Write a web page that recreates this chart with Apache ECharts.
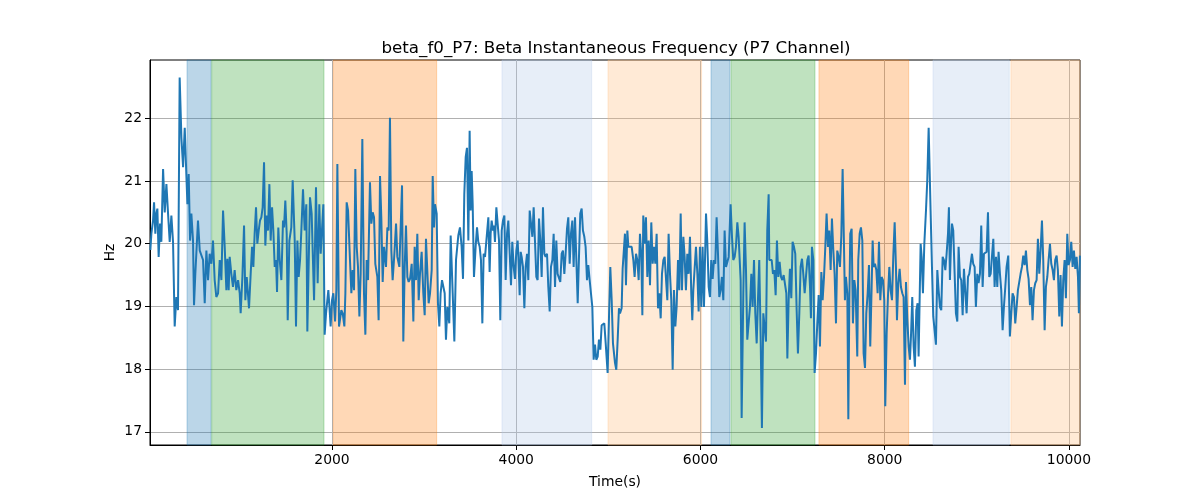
<!DOCTYPE html>
<html><head><meta charset="utf-8">
<script src="https://cdn.jsdelivr.net/npm/echarts@6/dist/echarts.min.js"></script>
<style>html,body{margin:0;padding:0;background:#fff}#c{width:1200px;height:500px}</style>
</head><body><div id="c"></div>
<script>
// [time (s), Hz] samples, traced segment by segment
const seg1 = [[28,19.90],[39,20.16],[57,20.37],[68,20.66],[82,20.16],[93,20.48],[104,20.56],[118,19.79],[133,20.32],[147,20.03],[166,21.19],[184,20.50],[202,20.95],[220,20.48],[238,20.03],[256,20.45],[274,20.03],[292,18.68],[310,19.15],[328,18.94],[346,22.65],[365,21.69],[383,21.22],[401,21.85],[419,21.08],[430,20.63],[444,21.11],[459,20.05],[473,20.48],[491,20.05],[502,19.02],[516,19.52],[545,20.37],[564,19.89],[582,19.92],[600,19.74],[618,19.05],[636,19.89],[654,19.42],[672,19.84],[690,19.68],[708,20.05],[726,19.42],[744,19.15],[763,19.21],[781,19.74],[799,19.42],[817,20.53],[835,19.95],[853,19.26],[864,19.76],[878,19.26],[889,19.79],[907,19.52],[925,19.31],[943,19.58],[961,19.26],[980,19.42],[998,19.21],[1008,18.89],[1027,19.47],[1045,20.29],[1059,19.10],[1074,19.47],[1099,18.97],[1117,19.52],[1132,19.95],[1146,19.63],[1160,20.16],[1175,20.58],[1189,20.00],[1204,20.21],[1218,20.37],[1233,20.42],[1247,20.58],[1262,21.30],[1276,19.97],[1291,20.45],[1305,20.21],[1320,20.95],[1334,20.05],[1349,20.58],[1363,20.21],[1378,19.63],[1392,19.74],[1403,19.23],[1417,20.26],[1432,19.74],[1450,19.42],[1468,20.37],[1479,20.26],[1493,20.69],[1508,20.16],[1519,18.78],[1537,20.05],[1558,20.26],[1573,21.01],[1595,20.05],[1609,18.68],[1624,20.05],[1638,19.47],[1653,19.74],[1667,20.21],[1685,20.87],[1703,20.21],[1721,20.63],[1732,18.60]];
const seg2 = [[1761,20.74],[1779,20.48],[1805,19.10],[1826,20.90],[1844,19.37],[1862,20.63],[1877,19.84],[1891,19.84],[1906,20.63],[1920,18.55],[1935,18.89],[1960,19.26],[1971,19.02],[1985,18.68],[2000,19.10],[2014,19.21],[2033,18.76],[2047,19.26],[2058,21.27],[2076,18.68],[2090,18.65],[2101,18.94],[2116,18.89],[2134,18.68],[2145,19.21],[2159,20.66],[2174,20.53],[2195,19.74],[2210,19.21],[2224,19.58],[2239,19.26],[2253,21.19],[2268,19.95],[2282,19.63],[2297,18.84],[2311,19.52],[2329,21.67],[2347,19.21],[2362,18.55],[2376,19.74],[2391,19.42],[2412,20.98],[2427,20.32],[2441,20.50],[2456,20.42],[2470,19.68],[2492,19.47],[2506,18.78],[2521,21.08],[2535,20.42],[2550,19.39],[2564,19.95],[2586,19.63],[2601,20.26],[2615,20.21],[2629,22.01],[2644,19.89],[2658,19.42],[2677,19.84],[2695,20.32],[2709,19.79],[2731,19.63],[2745,19.60],[2760,20.93],[2774,18.44],[2789,19.63],[2803,20.29],[2818,19.47],[2832,19.39],[2847,19.44],[2865,19.68],[2883,18.76],[2897,19.95],[2912,19.42],[2926,20.16],[2941,19.10],[2955,19.52],[2973,19.87],[2991,19.21],[3006,18.86],[3020,20.08],[3035,20.08],[3049,19.05],[3064,19.21],[3082,19.58],[3093,21.08],[3107,20.26],[3118,20.63],[3136,20.48],[3150,19.05],[3165,18.68],[3179,19.21],[3194,19.42],[3208,19.44],[3223,19.21],[3237,18.47],[3252,18.99],[3273,18.73],[3288,20.13],[3310,19.21],[3328,18.44],[3346,19.74],[3371,20.13],[3389,20.26]];
const seg3 = [[3407,19.95],[3422,19.44],[3436,20.79],[3451,21.38],[3465,21.53],[3480,20.05],[3494,21.80],[3505,20.53],[3516,21.16],[3527,20.63],[3541,19.47],[3559,19.95],[3574,20.26],[3588,20.03],[3603,19.95],[3617,19.74],[3632,18.73],[3646,19.84],[3661,19.79],[3682,19.81],[3697,20.42],[3711,19.55],[3722,20.16],[3733,20.37],[3748,20.21],[3758,20.29],[3769,20.03],[3784,20.58],[3798,20.32],[3813,20.05],[3827,18.78],[3842,20.21],[3856,20.37],[3871,20.45],[3885,19.42],[3900,20.16],[3914,20.37],[3929,19.84],[3943,19.34],[3957,20.03],[3972,19.63],[3986,19.44],[4001,19.89],[4015,20.05],[4023,19.79],[4037,19.18],[4048,19.87],[4059,19.79],[4073,19.63],[4088,18.97],[4102,19.63],[4117,19.84],[4131,19.42],[4146,20.53],[4160,20.56],[4175,20.11],[4189,20.58],[4203,20.05],[4218,19.47],[4232,19.42],[4247,20.40],[4261,20.05],[4276,19.47],[4290,20.58],[4305,19.84],[4319,19.79],[4334,19.84],[4348,19.31],[4363,18.92],[4377,19.63],[4392,19.74],[4406,20.16],[4421,19.31],[4435,20.05],[4449,19.52],[4464,19.50],[4478,19.39],[4493,19.84],[4507,19.89],[4522,19.52],[4536,19.84],[4551,20.24],[4565,20.42],[4580,19.68],[4594,20.16],[4609,20.37],[4623,19.63],[4638,20.42],[4652,20.42],[4667,19.05],[4681,19.79],[4695,20.48],[4710,20.56],[4724,20.21],[4739,20.11],[4753,19.95],[4768,19.42],[4782,19.66],[4797,19.42],[4811,19.21],[4826,18.99],[4840,18.15],[4855,18.39],[4869,18.15],[4884,18.20],[4898,18.47],[4913,18.31],[4927,18.70],[4942,18.73],[4956,18.73],[4971,18.41],[4992,17.94],[5007,18.84],[5021,19.63],[5036,19.10],[5050,18.41],[5072,18.10]];
const seg4 = [[5086,17.99],[5101,18.47],[5115,18.97],[5126,18.89],[5144,18.97],[5155,19.60],[5170,19.63],[5180,20.16],[5191,19.34],[5206,20.21],[5217,19.95],[5235,19.95],[5253,19.95],[5271,19.74],[5285,19.47],[5300,19.84],[5314,19.74],[5329,19.42],[5343,20.16],[5358,19.79],[5369,18.86],[5379,20.45],[5394,20.00],[5408,20.42],[5423,19.47],[5437,20.05],[5452,19.34],[5466,20.34],[5481,19.68],[5495,19.95],[5510,19.68],[5524,20.16],[5539,18.97],[5553,19.21],[5568,18.81],[5582,19.52],[5597,19.74],[5611,19.79],[5625,19.81],[5640,19.10],[5654,20.16],[5669,19.52],[5683,19.10],[5698,17.99],[5712,19.26],[5727,18.68],[5741,18.99],[5756,19.74],[5770,19.26],[5785,20.48],[5799,19.26],[5814,20.11],[5828,19.79],[5842,19.26],[5857,19.84],[5871,19.52],[5886,20.11],[5900,19.21],[5911,18.78],[5922,19.26],[5937,19.26],[5951,19.95],[5966,19.52],[5980,18.92],[5994,19.95],[6009,18.99],[6023,19.95],[6038,18.99],[6060,20.48],[6074,20.03],[6089,19.31],[6103,19.15],[6117,19.74],[6132,19.44],[6146,19.74],[6161,19.68],[6175,20.42],[6190,19.84],[6204,19.15],[6219,19.26],[6233,19.47],[6248,19.10],[6262,20.21],[6277,19.63],[6291,19.60],[6306,19.79],[6327,20.63],[6342,20.11],[6356,19.74],[6371,19.79],[6385,19.95],[6400,20.34],[6414,20.11],[6436,19.42],[6447,17.22],[6465,19.21],[6479,20.34],[6494,19.58],[6508,18.47],[6523,18.49],[6537,18.99],[6552,19.52],[6566,18.99],[6581,19.74],[6595,18.89],[6610,18.41],[6624,19.10],[6638,19.74],[6653,18.52],[6667,17.06],[6682,18.89],[6696,18.89],[6711,18.44],[6725,20.21],[6740,20.79],[6747,19.74]];
const seg5 = [[6773,19.74],[6787,19.52],[6801,19.58],[6816,19.18],[6830,20.05],[6845,19.47],[6859,19.71],[6874,19.47],[6888,19.42],[6903,19.50],[6917,19.50],[6932,19.21],[6943,18.17],[6957,19.10],[6971,19.60],[6986,19.13],[7000,20.03],[7015,19.95],[7029,19.84],[7044,18.94],[7058,18.25],[7073,18.89],[7087,19.63],[7102,19.76],[7116,19.52],[7131,19.21],[7145,19.47],[7160,19.74],[7174,19.81],[7189,19.31],[7199,18.81],[7210,19.95],[7225,19.74],[7239,17.94],[7254,18.25],[7268,18.73],[7283,19.18],[7297,18.36],[7312,19.55],[7326,19.10],[7341,19.47],[7355,19.95],[7369,20.48],[7384,19.95],[7398,20.21],[7413,19.58],[7427,20.40],[7442,19.89],[7456,19.52],[7471,18.73],[7485,19.89],[7500,19.79],[7514,19.63],[7529,20.13],[7543,21.19],[7558,19.95],[7568,19.10],[7579,19.47],[7594,19.21],[7605,17.20],[7616,19.10],[7626,20.16],[7641,20.24],[7655,18.73],[7670,19.42],[7684,19.26],[7702,18.20],[7713,19.74],[7728,20.16],[7742,20.26],[7757,20.05],[7771,18.25],[7786,18.02],[7800,18.89],[7815,19.21],[7829,19.66],[7843,18.36],[7858,19.31],[7869,20.05],[7880,19.63],[7894,19.68],[7909,19.58],[7923,19.21],[7938,20.03],[7952,19.10],[7966,19.47],[7981,19.42],[7995,19.10],[8006,17.41],[8021,18.57],[8035,19.15],[8050,19.63],[8064,19.26],[8079,19.10],[8093,19.79],[8108,20.34],[8122,19.63],[8133,18.78],[8147,19.37],[8162,19.60],[8176,19.31],[8191,19.21],[8205,19.15],[8220,17.75],[8231,19.39],[8245,18.81],[8260,18.36],[8274,18.15],[8285,18.52],[8299,19.15],[8314,18.36],[8328,18.04],[8343,18.94],[8357,19.05],[8368,18.20],[8379,19.10],[8390,20.00],[8401,19.79],[8415,19.21],[8430,20.00]];
const seg6 = [[8448,20.53],[8462,21.01],[8477,21.85],[8488,21.85],[8498,20.53],[8513,19.63],[8527,18.84],[8542,18.84],[8556,18.39],[8571,19.58],[8585,19.26],[8600,18.99],[8614,18.94],[8629,19.79],[8643,19.74],[8658,19.58],[8672,19.84],[8687,20.16],[8697,20.58],[8708,19.42],[8719,19.97],[8730,20.32],[8744,20.21],[8759,19.52],[8773,18.89],[8788,18.76],[8802,19.95],[8817,19.47],[8831,19.42],[8846,18.86],[8860,19.60],[8875,19.58],[8889,18.89],[8904,19.47],[8918,19.52],[8933,19.52],[8947,19.84],[8961,19.68],[8976,19.63],[8990,18.99],[9005,19.52],[9019,19.37],[9034,19.52],[9048,20.29],[9063,19.31],[9077,19.84],[9092,19.84],[9106,19.87],[9121,20.50],[9135,19.47],[9150,19.52],[9164,19.79],[9179,20.08],[9193,19.31],[9208,19.79],[9222,19.31],[9236,19.87],[9251,19.52],[9265,19.26],[9280,18.62],[9294,18.99],[9309,19.31],[9323,19.63],[9341,19.81],[9359,18.52],[9374,18.89],[9388,19.21],[9403,19.15],[9417,18.73],[9432,18.99],[9446,19.26],[9461,19.29],[9475,19.52],[9490,19.63],[9504,19.81],[9519,19.66],[9533,19.89],[9548,19.58],[9562,19.44],[9577,19.02],[9591,19.31],[9605,18.78],[9620,19.26],[9634,19.37],[9649,19.42],[9663,20.08],[9678,19.52],[9692,19.89],[9707,20.37],[9721,19.74],[9736,18.62],[9750,19.31],[9765,19.47],[9779,19.74],[9794,20.00],[9808,19.68],[9823,19.58],[9837,19.42],[9851,19.74],[9866,19.81],[9880,19.58],[9895,18.84],[9909,19.50],[9924,18.68],[9938,19.42],[9953,19.74],[9967,19.13],[9982,20.16],[9996,19.66],[10011,19.74],[10025,20.03],[10040,19.63],[10054,19.89],[10069,19.60],[10083,19.79],[10098,19.47],[10108,18.89],[10119,19.81]];

const xTicks = [2000, 4000, 6000, 8000, 10000];
const yTicks = [17, 18, 19, 20, 21, 22];
const bandStarts = [426, 694, 2014, 3845, 4996, 6114, 6331, 7286, 8524, 9370];
const bandEnds   = [687, 1913, 3136, 4819, 6012, 6320, 7243, 8260, 9352, 10120];
const bandKinds  = ['blue','green','orange','lightblue','lightorange','blue','green','orange','lightblue','lightorange'];

const kindFill = {
  blue: 'rgba(31,119,180,0.3)', green: 'rgba(44,160,44,0.3)', orange: 'rgba(255,127,14,0.3)',
  lightblue: 'rgba(174,199,232,0.3)', lightorange: 'rgba(255,187,120,0.3)'
};

const data = [].concat(seg1, seg2, seg3, seg4, seg5, seg6);
const font = 'DejaVu Sans';
const chart = echarts.init(document.getElementById('c'), null, {renderer: 'canvas'});
chart.setOption({
  animation: false,
  backgroundColor: '#fff',
  title: {
    text: 'beta_f0_P7: Beta Instantaneous Frequency (P7 Channel)',
    left: 611, top: 35, textAlign: 'center',
    textStyle: {fontFamily: font, fontSize: 16.7, fontWeight: 'normal', color: '#000'}
  },
  grid: {left: 150, right: 120, top: 60, bottom: 55, show: true, borderColor: '#000', borderWidth: 1, backgroundColor: 'transparent'},
  xAxis: {
    type: 'value', min: 24, max: 10120,
    name: 'Time(s)', nameLocation: 'middle', nameGap: 30,
    nameTextStyle: {fontFamily: font, fontSize: 13.9, color: '#000'},
    axisLine: {show: true, lineStyle: {color: '#000', width: 1}},
    axisTick: {show: true, length: 5, customValues: xTicks, lineStyle: {color: '#000'}},
    axisLabel: {customValues: xTicks, margin: 8, fontFamily: font, fontSize: 13.9, color: '#000',
      formatter: v => String(v)},
    splitLine: {show: true, lineStyle: {color: '#b0b0b0', width: 1}}
  },
  yAxis: {
    type: 'value', min: 16.79, max: 22.93,
    name: 'Hz', nameLocation: 'middle', nameGap: 33, nameMoveOverlap: false,
    nameTextStyle: {fontFamily: font, fontSize: 13.9, color: '#000'},
    axisLine: {show: true, lineStyle: {color: '#000', width: 1}},
    axisTick: {show: true, length: 5, customValues: yTicks, lineStyle: {color: '#000'}},
    axisLabel: {customValues: yTicks, margin: 8, fontFamily: font, fontSize: 13.9, color: '#000',
      formatter: v => String(v)},
    splitLine: {show: true, lineStyle: {color: '#b0b0b0', width: 1}}
  },
  series: [
    {
      type: 'line', data: [], z: 1, silent: true,
      markArea: {
        silent: true,
        data: bandStarts.map((s, i) => [
          {xAxis: s, itemStyle: {color: kindFill[bandKinds[i]], borderColor: kindFill[bandKinds[i]], borderWidth: 1}},
          {xAxis: bandEnds[i]}
        ])
      }
    },
    {
      type: 'line', data: data, z: 3, showSymbol: false, silent: true,
      lineStyle: {color: '#1f77b4', width: 2}, itemStyle: {color: '#1f77b4'}
    }
  ]
});
</script></body></html>
